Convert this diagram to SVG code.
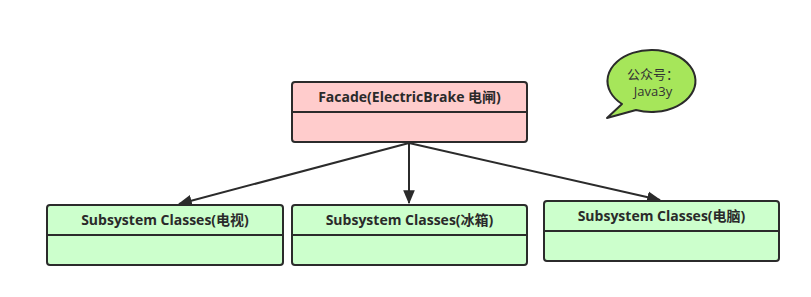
<svg xmlns="http://www.w3.org/2000/svg" width="811" height="297" viewBox="0 0 811 297">
<defs>
<style>
.box{stroke:#2b2b2b;stroke-width:2}
.facade{fill:#ffcccc}
.sub{fill:#ccffcc}
.div{stroke:#2b2b2b;stroke-width:2}
.t{font-family:"Open Sans","Noto Sans CJK SC",sans-serif;font-size:14px;font-weight:bold;fill:#2a2a2a;text-anchor:middle}
.bt{font-family:"Open Sans","Noto Sans CJK SC",sans-serif;font-size:13px;fill:#333;text-anchor:middle}
.conn{stroke:#2b2b2b;stroke-width:2;fill:none}
</style>
<marker id="arr" viewBox="0 0 12 10" refX="11" refY="5" markerWidth="7" markerHeight="6" orient="auto" markerUnits="strokeWidth">
<path d="M0,0 L12,5 L0,10 z" fill="#2b2b2b"/>
</marker>
</defs>
<rect width="811" height="297" fill="#ffffff"/>
<g id="connectors">
<line class="conn" x1="409" y1="143" x2="179" y2="204" marker-end="url(#arr)"/>
<line class="conn" x1="409" y1="143" x2="409" y2="203" marker-end="url(#arr)"/>
<line class="conn" x1="409" y1="143" x2="660" y2="200" marker-end="url(#arr)"/>
</g>
<g id="facade">
<rect class="box facade" x="292" y="82" width="235" height="60" rx="3"/>
<line class="div" x1="292" y1="112" x2="527" y2="112"/>
<text class="t" x="409.5" y="102">Facade(ElectricBrake 电闸)</text>
</g>
<g id="sub-tv">
<rect class="box sub" x="47" y="205" width="236" height="60" rx="3"/>
<line class="div" x1="47" y1="235" x2="283" y2="235"/>
<text class="t" x="165" y="225">Subsystem Classes(电视)</text>
</g>
<g id="sub-fridge">
<rect class="box sub" x="292" y="205" width="235" height="60" rx="3"/>
<line class="div" x1="292" y1="235" x2="527" y2="235"/>
<text class="t" x="409.5" y="225">Subsystem Classes(冰箱)</text>
</g>
<g id="sub-pc">
<rect class="box sub" x="544" y="201" width="235" height="60" rx="3"/>
<line class="div" x1="544" y1="231" x2="779" y2="231"/>
<text class="t" x="661.5" y="221">Subsystem Classes(电脑)</text>
</g>
<g id="callout">
<path d="M622,104 A44,31 0 1 1 636,110 L607,118 Z" fill="#a6e65a" stroke="#2b2b2b" stroke-width="2" stroke-linejoin="round"/>
<text class="bt" x="653" y="79">公众号：</text>
<text class="bt" x="653" y="96">Java3y</text>
</g>
</svg>
